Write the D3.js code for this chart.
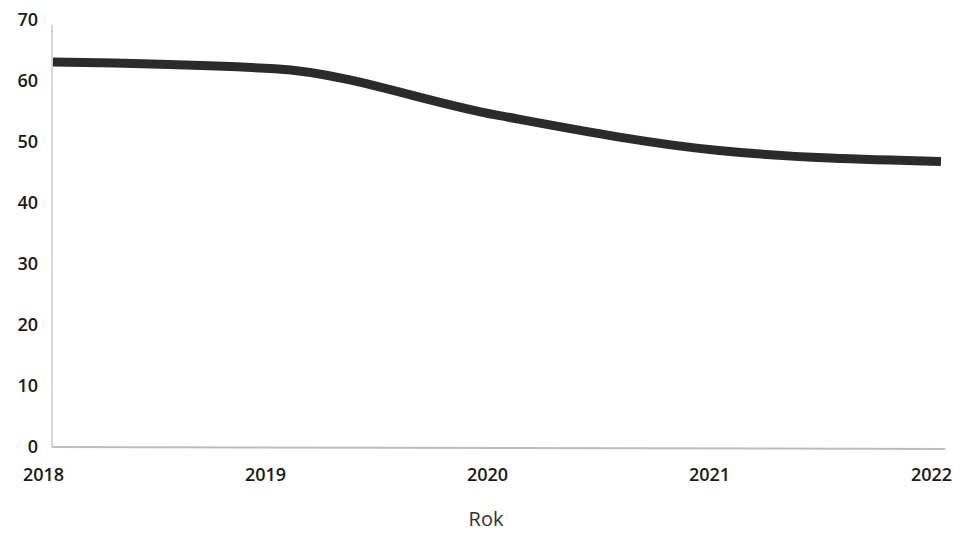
<!DOCTYPE html>
<html>
<head>
<meta charset="utf-8">
<script src="https://cdn.jsdelivr.net/npm/d3@7"></script>
<style>
  html, body { margin: 0; padding: 0; background: #fff; }
  svg { display: block; }
  .tick text { font-family: "Open Sans", sans-serif; font-weight: 600; fill: #1a1a1a; }
</style>
</head>
<body>
<svg id="chart" width="960" height="534"></svg>
<script>
const years = [2018, 2019, 2020, 2021, 2022];
const values = [63.1, 62.0, 54.4, 48.6, 46.8];
const yTicks = [0, 10, 20, 30, 40, 50, 60, 70];
const xTitle = "Rok";

const svg = d3.select("#chart");
const x = d3.scalePoint().domain(years).range([53, 941]);
const y = d3.scaleLinear().domain([0, 70]).range([447, 20]);

// axis lines
svg.append("line").attr("x1", 52).attr("x2", 52).attr("y1", 25).attr("y2", 447)
  .attr("stroke", "#c8c8c8").attr("stroke-width", 1.5);
svg.append("line").attr("x1", 52).attr("x2", 945).attr("y1", 447).attr("y2", 449)
  .attr("stroke", "#bdbdbd").attr("stroke-width", 2);

// y axis labels
const yAxis = d3.axisLeft(y).tickValues(yTicks).tickSize(0).tickPadding(14);
const gy = svg.append("g").attr("transform", "translate(52,0)").call(yAxis);
gy.select(".domain").remove();
gy.selectAll("text").style("font-size", "18px");

// x axis labels
const xAxis = d3.axisBottom(x).tickSize(0).tickPadding(21).tickFormat(d3.format("d"));
const gx = svg.append("g").attr("transform", "translate(0,447)").call(xAxis);
gx.select(".domain").remove();
gx.selectAll("text").style("font-size", "18px").attr("dx", "-10");

// axis title
svg.append("text").attr("x", 486).attr("y", 526).attr("text-anchor", "middle")
  .style("font-family", "'Open Sans', sans-serif").style("font-size", "20px")
  .style("fill", "#333").text(xTitle);

// line
const line = d3.line()
  .x((d, i) => x(years[i]))
  .y(d => y(d))
  .curve(d3.curveMonotoneX);
svg.append("path").datum(values).attr("d", line)
  .attr("fill", "none").attr("stroke", "#2b2b2b").attr("stroke-width", 9);
</script>
</body>
</html>
